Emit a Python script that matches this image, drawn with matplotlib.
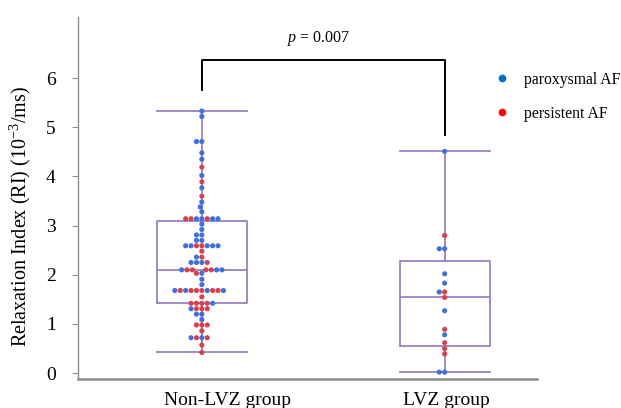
import numpy as np
import pandas as pd
import seaborn as sns
import matplotlib
matplotlib.use("Agg")
import matplotlib.pyplot as plt
from matplotlib.lines import Line2D

plt.rcParams["font.family"] = ["Liberation Serif", "DejaVu Serif"]
plt.rcParams["mathtext.fontset"] = "custom"
plt.rcParams["mathtext.rm"] = "Liberation Serif"
plt.rcParams["mathtext.it"] = "Liberation Serif:italic"

groups = ["Non-LVZ group", "LVZ group"]
af_types = ["paroxysmal AF", "persistent AF"]

nonlvz_ri = [5.33, 5.22, 4.71, 4.71, 4.48, 4.35, 4.19, 4.02, 3.89, 3.77, 3.60, 3.48, 3.38, 3.28,
             3.14, 3.14, 3.14, 3.14, 3.14, 3.14, 3.14, 3.03, 2.92, 2.81, 2.81, 2.70, 2.70,
             2.59, 2.59, 2.59, 2.59, 2.59, 2.59, 2.59, 2.48, 2.36, 2.36, 2.25, 2.25, 2.25, 2.25,
             2.10, 2.10, 2.10, 2.10, 2.10, 2.10, 2.10, 2.03, 2.03, 1.91, 1.80,
             1.68, 1.68, 1.68, 1.68, 1.68, 1.68, 1.68, 1.68, 1.68, 1.68, 1.55,
             1.42, 1.42, 1.42, 1.42, 1.42, 1.31, 1.31, 1.31, 1.31, 1.20, 1.20, 1.09,
             0.98, 0.98, 0.98, 0.86, 0.72, 0.72, 0.72, 0.72, 0.57, 0.42]
nonlvz_af = list("pppppps" "psps" "ppp"
                 "pspspsp" "pppppp"
                 "sppppsp" "s" "ps" "sppp"
                 "sspsspp" "sp" "pp"
                 "pspsssspp" "s" "s"
                 "ssssp" "sssp" "pp" "p"
                 "sss" "s" "spps" "s" "s")
lvz_ri = [4.51, 2.80, 2.53, 2.53, 2.02, 1.83, 1.65, 1.65, 1.54, 1.27, 0.89, 0.78, 0.62,
          0.50, 0.39, 0.02, 0.02]
lvz_af = list("pspppppsspspsssp" "p")

p_label = "$p$ = 0.007"

blue = "#3f6fdc"
red = "#d8404f"
box_color = "#9a80c2"

codes = {"p": af_types[0], "s": af_types[1]}
df = pd.DataFrame({
    "group": [groups[0]] * len(nonlvz_ri) + [groups[1]] * len(lvz_ri),
    "ri": nonlvz_ri + lvz_ri,
    "af": [codes[c] for c in nonlvz_af[:len(nonlvz_ri)] + lvz_af[:len(lvz_ri)]],
})

fig = plt.figure(figsize=(6.21, 4.08), dpi=100)
ax = fig.add_axes([0.1256, 0.071, 0.739, 0.887])

# box stats (quartiles as (n+1)p, whiskers min-max)
stats = []
for vals in (nonlvz_ri, lvz_ri):
    v = np.array(vals)
    stats.append(dict(med=np.median(v),
                      q1=np.percentile(v, 25, method="weibull"),
                      q3=np.percentile(v, 75, method="weibull"),
                      whislo=v.min(), whishi=v.max(), fliers=[]))
lp = dict(color=box_color, linewidth=1.3)
ax.bxp(stats, positions=[0, 1], widths=0.37, capwidths=0.37, showfliers=False,
       boxprops=lp, whiskerprops=lp, capprops=lp, medianprops=lp, zorder=1)

sns.swarmplot(data=df, x="group", y="ri", hue="af", order=groups, hue_order=af_types,
              palette={af_types[0]: blue, af_types[1]: red}, size=3.7, linewidth=0,
              legend=False, ax=ax, zorder=3)

# significance bracket
ax.plot([0, 0, 1, 1], [5.75, 6.36, 6.36, 4.84], color="black", linewidth=1.4, zorder=4)
ax.text(0.48, 6.62, p_label, ha="center", va="bottom", fontsize=11.5)

ax.set_xlim(-0.51, 1.38)
ax.set_ylim(-0.12, 7.24)
ax.set_yticks(range(0, 7))
# labels sit slightly right of the boxes in the original
ax.set_xticks([0.107, 1.008])
ax.set_xticklabels(groups)
ax.set_xlabel("")
ax.set_ylabel("Relaxation Index (RI) (10$^{\\mathrm{-3}}$/ms)", fontsize=14.5)
ax.yaxis.set_label_coords(-0.098, 0.45)
ax.tick_params(axis="y", length=4, width=0.8, color="#8c8c8c", labelsize=14, pad=12)
ax.tick_params(axis="x", length=0, labelsize=14, pad=9)

for sp in ["top", "right"]:
    ax.spines[sp].set_visible(False)
ax.spines["left"].set_color("#8c8c8c")
ax.spines["left"].set_linewidth(1.0)
ax.spines["bottom"].set_color("#8c8c8c")
ax.spines["bottom"].set_linewidth(1.8)

handles = [Line2D([], [], marker="o", linestyle="", color="#0070c0", markersize=4.5),
           Line2D([], [], marker="o", linestyle="", color="#ff0000", markersize=4.5)]
fig.legend(handles, af_types, loc="upper left", bbox_to_anchor=(0.785, 0.84),
           frameon=False, fontsize=11.3, handletextpad=0.9, labelspacing=1.15,
           handlelength=1.0, borderaxespad=0)

fig.savefig("out.png", dpi=100)
